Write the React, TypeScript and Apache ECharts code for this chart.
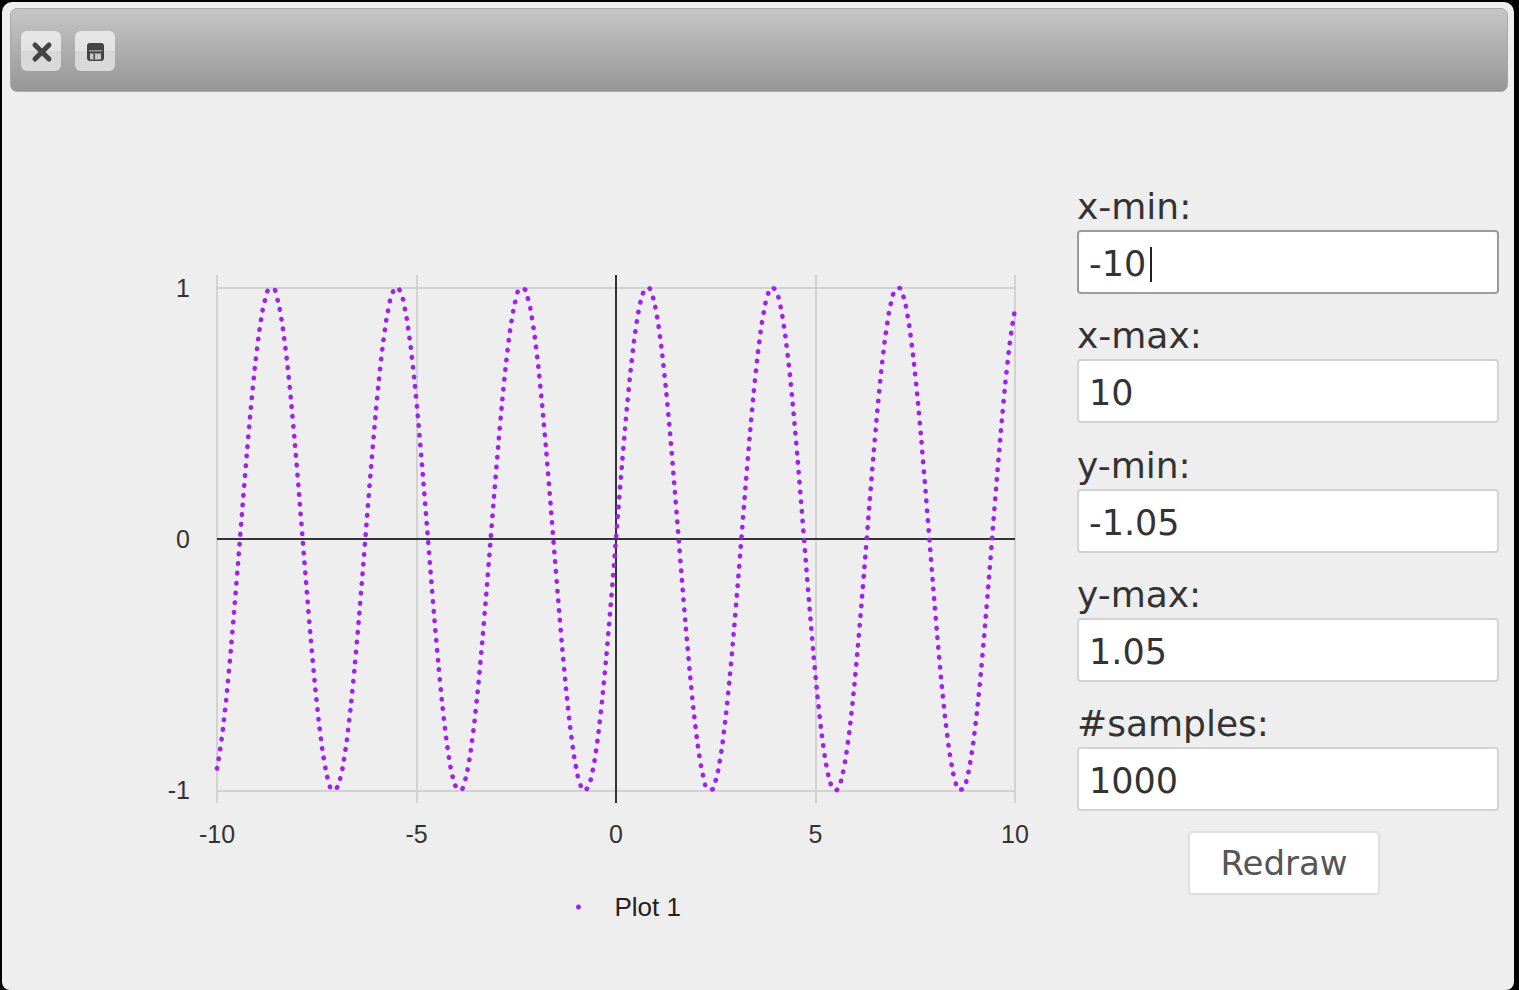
import { useEffect, useRef } from 'react'
import * as echarts from 'echarts'

// sample positions (x) and values
const X_VALUES = [
  -10.0, -9.9, -9.8, -9.7, -9.6, -9.5, -9.4, -9.3, -9.2, -9.1,
  -9.0, -8.9, -8.8, -8.7, -8.6, -8.5, -8.4, -8.3, -8.2, -8.1,
  -8.0, -7.9, -7.8, -7.7, -7.6, -7.5, -7.4, -7.3, -7.2, -7.1,
  -7.0, -6.9, -6.8, -6.7, -6.6, -6.5, -6.4, -6.3, -6.2, -6.1,
  -6.0, -5.9, -5.8, -5.7, -5.6, -5.5, -5.4, -5.3, -5.2, -5.1,
  -5.0, -4.9, -4.8, -4.7, -4.6, -4.5, -4.4, -4.3, -4.2, -4.1,
  -4.0, -3.9, -3.8, -3.7, -3.6, -3.5, -3.4, -3.3, -3.2, -3.1,
  -3.0, -2.9, -2.8, -2.7, -2.6, -2.5, -2.4, -2.3, -2.2, -2.1,
  -2.0, -1.9, -1.8, -1.7, -1.6, -1.5, -1.4, -1.3, -1.2, -1.1,
  -1.0, -0.9, -0.8, -0.7, -0.6, -0.5, -0.4, -0.3, -0.2, -0.1,
  0,
  0.1, 0.2, 0.3, 0.4, 0.5, 0.6, 0.7, 0.8, 0.9, 1.0,
  1.1, 1.2, 1.3, 1.4, 1.5, 1.6, 1.7, 1.8, 1.9, 2.0,
  2.1, 2.2, 2.3, 2.4, 2.5, 2.6, 2.7, 2.8, 2.9, 3.0,
  3.1, 3.2, 3.3, 3.4, 3.5, 3.6, 3.7, 3.8, 3.9, 4.0,
  4.1, 4.2, 4.3, 4.4, 4.5, 4.6, 4.7, 4.8, 4.9, 5.0,
  5.1, 5.2, 5.3, 5.4, 5.5, 5.6, 5.7, 5.8, 5.9, 6.0,
  6.1, 6.2, 6.3, 6.4, 6.5, 6.6, 6.7, 6.8, 6.9, 7.0,
  7.1, 7.2, 7.3, 7.4, 7.5, 7.6, 7.7, 7.8, 7.9, 8.0,
  8.1, 8.2, 8.3, 8.4, 8.5, 8.6, 8.7, 8.8, 8.9, 9.0,
  9.1, 9.2, 9.3, 9.4, 9.5, 9.6, 9.7, 9.8, 9.9, 10.0,
]

const Y_VALUES = [
  -0.913, -0.814, -0.682, -0.523, -0.343, -0.150, 0.050, 0.247, 0.435, 0.605,
  0.751, 0.867, 0.949, 0.993, 0.997, 0.961, 0.888, 0.778, 0.638, 0.472,
  0.288, 0.092, -0.108, -0.303, -0.487, -0.650, -0.788, -0.895, -0.966, -0.998,
  -0.991, -0.944, -0.859, -0.740, -0.592, -0.420, -0.232, -0.034, 0.166, 0.358,
  0.537, 0.694, 0.823, 0.919, 0.979, 1.000, 0.981, 0.923, 0.828, 0.700,
  0.544, 0.366, 0.174, -0.025, -0.223, -0.412, -0.585, -0.734, -0.855, -0.941,
  -0.989, -0.999, -0.968, -0.899, -0.794, -0.657, -0.494, -0.312, -0.117, 0.083,
  0.279, 0.465, 0.631, 0.773, 0.884, 0.959, 0.996, 0.994, 0.952, 0.872,
  0.757, 0.612, 0.443, 0.256, 0.058, -0.141, -0.335, -0.516, -0.675, -0.808,
  -0.909, -0.974, -1.000, -0.985, -0.932, -0.841, -0.717, -0.565, -0.389, -0.199,
  0,
  0.199, 0.389, 0.565, 0.717, 0.841, 0.932, 0.985, 1.000, 0.974, 0.909,
  0.808, 0.675, 0.516, 0.335, 0.141, -0.058, -0.256, -0.443, -0.612, -0.757,
  -0.872, -0.952, -0.994, -0.996, -0.959, -0.884, -0.773, -0.631, -0.465, -0.279,
  -0.083, 0.117, 0.312, 0.494, 0.657, 0.794, 0.899, 0.968, 0.999, 0.989,
  0.941, 0.855, 0.734, 0.585, 0.412, 0.223, 0.025, -0.174, -0.366, -0.544,
  -0.700, -0.828, -0.923, -0.981, -1.000, -0.979, -0.919, -0.823, -0.694, -0.537,
  -0.358, -0.166, 0.034, 0.232, 0.420, 0.592, 0.740, 0.859, 0.944, 0.991,
  0.998, 0.966, 0.895, 0.788, 0.650, 0.487, 0.303, 0.108, -0.092, -0.288,
  -0.472, -0.638, -0.778, -0.888, -0.961, -0.997, -0.993, -0.949, -0.867, -0.751,
  -0.605, -0.435, -0.247, -0.050, 0.150, 0.343, 0.523, 0.682, 0.814, 0.913,
]

const Y_TICKS = [-1, 0, 1]
const ZERO_LINES = [{ xAxis: 0 }, { yAxis: 0 }]
const SERIES_NAME = 'Plot 1'

const FIELD_LABELS = ['x-min:', 'x-max:', 'y-min:', 'y-max:', '#samples:']
const FIELD_VALUES = ['-10', '10', '-1.05', '1.05', '1000']
const BUTTON_LABEL = 'Redraw'

const PURPLE = '#a020f0'
const FONT = '"Liberation Sans", Arial, sans-serif'
const FORM_FONT = '"DejaVu Sans", Verdana, sans-serif'

function Plot() {
  const chartRef = useRef<HTMLDivElement>(null)

  useEffect(() => {
    if (!chartRef.current) return
    const chart = echarts.init(chartRef.current, null, { renderer: 'svg' })
    const points = X_VALUES.map((x, i) => [x, Y_VALUES[i]])

    chart.setOption({
      animation: false,
      backgroundColor: 'transparent',
      textStyle: { fontFamily: FONT },
      grid: { left: 217, top: 175, width: 798, height: 528, containLabel: false, outerBoundsMode: 'none' },
      xAxis: {
        type: 'value',
        min: -10,
        max: 10,
        interval: 5,
        axisLine: { show: false },
        axisTick: { show: false },
        axisLabel: { color: '#333', fontSize: 25, margin: 18, fontFamily: FONT },
        splitLine: { show: true, lineStyle: { color: '#d2d2d2', width: 2 } },
      },
      yAxis: {
        type: 'value',
        min: -1.05,
        max: 1.05,
        axisLine: { show: false },
        axisTick: { show: false, customValues: Y_TICKS },
        axisLabel: { customValues: Y_TICKS, color: '#333', fontSize: 25, margin: 27, fontFamily: FONT },
        splitLine: { show: true, lineStyle: { color: '#d2d2d2', width: 2 } },
      },
      legend: {
        data: [SERIES_NAME],
        left: 576,
        top: 794,
        padding: 0,
        icon: 'circle',
        itemWidth: 62,
        itemHeight: 5,
        itemStyle: { color: PURPLE, borderWidth: 0 },
        textStyle: { color: '#222', fontSize: 26, fontFamily: FONT },
      },
      series: [
        {
          name: SERIES_NAME,
          type: 'line',
          data: points,
          smooth: true,
          symbol: 'none',
          color: PURPLE,
          z: 3,
          lineStyle: { color: PURPLE, width: 4.6, type: [0.5, 9.3], cap: 'round' },
          itemStyle: { color: PURPLE },
          markLine: {
            silent: true,
            z: 1,
            symbol: ['none', 'none'],
            label: { show: false },
            lineStyle: { color: '#333', width: 2, type: 'solid' },
            data: ZERO_LINES,
          },
        },
      ],
    })

    return () => chart.dispose()
  }, [])

  return <div ref={chartRef} style={{ position: 'absolute', left: 0, top: 100, width: 1060, height: 880 }} />
}

function TitleBar() {
  const btn: React.CSSProperties = {
    position: 'absolute',
    top: 22,
    width: 40,
    height: 40,
    borderRadius: 6,
    background: 'linear-gradient(#e7e7e7 0%, #e2e2e2 50%, #d7d7d7 50%, #dadada 100%)',
  }
  return (
    <div
      style={{
        position: 'absolute',
        left: 10,
        top: 8,
        width: 1498,
        height: 84,
        boxSizing: 'border-box',
        border: '1px solid #a9a9a9',
        borderRadius: 7,
        background: 'linear-gradient(#c6c6c6, #969696)',
      }}
    >
      <div style={{ ...btn, left: 10 }}>
        <svg width="40" height="40">
          <path d="M14 14 L28 28 M28 14 L14 28" stroke="#444" strokeWidth="5" strokeLinecap="round" />
        </svg>
      </div>
      <div style={{ ...btn, left: 64 }}>
        <svg width="40" height="40">
          <rect x="12" y="12" width="17" height="18" rx="3" fill="#444" />
          <rect x="14" y="19" width="13" height="1.5" fill="#9a9a9a" />
          <rect x="15" y="22.5" width="11" height="6" fill="#c8c8c8" />
          <rect x="18.5" y="22.5" width="1.5" height="6" fill="#444" />
        </svg>
      </div>
    </div>
  )
}

function Form() {
  return (
    <>
      {FIELD_LABELS.map((label, i) => {
        const top = 230 + Math.round(i * 129.25)
        return (
          <div key={label}>
            <div
              style={{
                position: 'absolute',
                left: 1077,
                top: top - 41,
                font: `36px ${FORM_FONT}`,
                lineHeight: '36px',
                color: '#333',
                whiteSpace: 'nowrap',
              }}
            >
              {label}
            </div>
            <div
              style={{
                position: 'absolute',
                left: 1077,
                top,
                width: 422,
                height: 64,
                boxSizing: 'border-box',
                border: `2px solid ${i === 0 ? '#9c9c9c' : '#d3d3d3'}`,
                borderRadius: 4,
                background: '#fff',
                paddingTop: 15,
                paddingLeft: 10,
                font: `35px ${FORM_FONT}`,
                lineHeight: '35px',
                color: '#333',
                whiteSpace: 'nowrap',
              }}
            >
              {FIELD_VALUES[i]}
              {i === 0 && (
                <span
                  style={{
                    display: 'inline-block',
                    width: 2,
                    height: 35,
                    marginLeft: 4,
                    background: '#222',
                    verticalAlign: '-6px',
                  }}
                />
              )}
            </div>
          </div>
        )
      })}
      <div
        style={{
          position: 'absolute',
          left: 1188,
          top: 831,
          width: 192,
          height: 64,
          boxSizing: 'border-box',
          border: '2px solid #e0e0e0',
          borderRadius: 4,
          background: '#fff',
          display: 'flex',
          alignItems: 'center',
          justifyContent: 'center',
          font: `34px ${FORM_FONT}`,
          color: '#555',
        }}
      >
        {BUTTON_LABEL}
      </div>
    </>
  )
}

export default function App() {
  return (
    <div style={{ position: 'fixed', inset: 0, background: '#000', overflow: 'hidden' }}>
      <div
        style={{
          position: 'absolute',
          left: 2,
          top: 2,
          width: 1512,
          height: 988,
          background: '#eeeeee',
          borderRadius: '10px 10px 8px 8px',
        }}
      />
      <TitleBar />
      <Plot />
      <Form />
    </div>
  )
}
